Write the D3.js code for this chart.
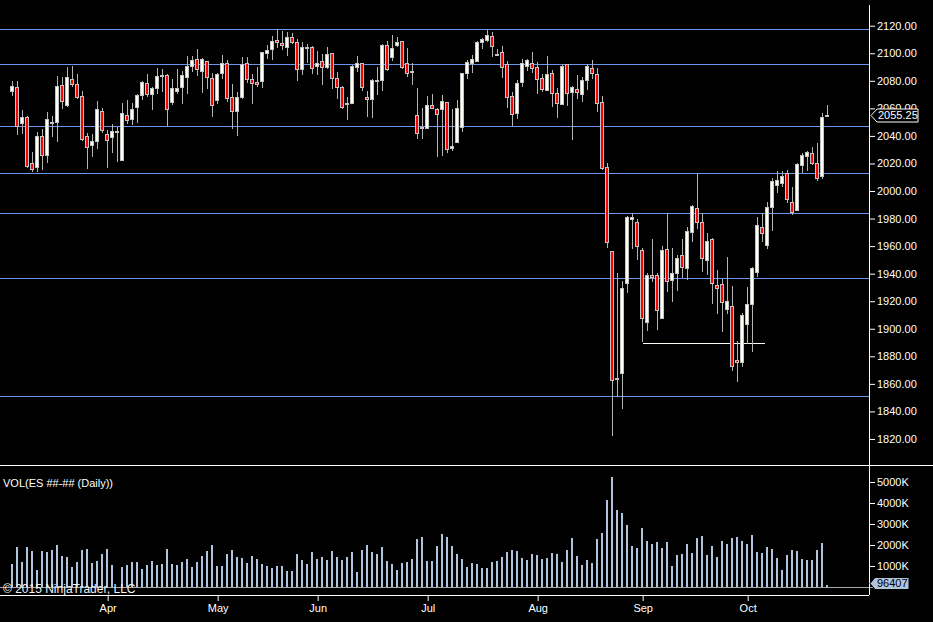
<html>
<head>
<meta charset="utf-8">
<script src="https://d3js.org/d3.v7.min.js"></script>
<style>
  body { margin: 0; background: #000; }
  text { font-family: "Liberation Sans", Arial, sans-serif; font-size: 11px; }
</style>
</head>
<body>
<svg class="chart" width="933" height="622"></svg>
<script>

// daily ES bars, 5 Mar - 23 Oct 2015 (Memorial day, 3 Jul and Labor day have no bar)
const holidays = ["2015-05-25", "2015-07-03", "2015-09-07"];

const opens = [2072.4,2075.3,2049.1,2053.5,2020.1,2017.7,2039.9,2026.4,2049.9,2049.9,
  2076.7,2062.7,2081.1,2077.4,2069.0,2039.9,2033.2,2036.1,2057.8,2041.1,
  2039.0,2043.3,2022.7,2055.2,2052.0,2061.2,2069.5,2078.7,2070.2,2075.0,
  2083.5,2084.5,2064.6,2072.8,2075.3,2082.5,2090.8,2096.1,2087.1,2094.1,
  2081.8,2066.1,2085.4,2092.7,2068.5,2057.8,2068.5,2093.2,2081.1,2079.4,
  2079.6,2100.4,2102.8,2109.9,2107.7,2104.3,2112.0,2107.9,2088.8,2103.8,
  2104.8,2090.5,2094.1,2090.3,2099.9,2081.8,2075.3,2063.6,2064.1,2089.8,
  2092.7,2068.0,2066.5,2080.6,2080.3,2105.8,2097.0,2105.8,2108.7,2092.7,
  2086.6,2054.9,2046.0,2045.5,2062.7,2059.8,2059.3,2064.6,2031.0,2035.8,
  2046.2,2085.4,2093.2,2094.6,2107.9,2109.6,2112.3,2099.2,2100.7,2092.0,
  2069.2,2056.4,2078.9,2090.8,2092.7,2089.8,2082.0,2073.3,2085.4,2070.9,
  2062.9,2092.0,2071.6,2074.1,2070.2,2080.6,2089.1,2084.9,2064.6,2017.2,
  1956.2,1864.0,1867.6,1933.0,1979.4,1977.2,1957.2,1904.7,1938.8,1938.8,
  1908.0,1957.6,1935.1,1940.2,1953.3,1943.9,1970.5,1987.4,1977.2,1949.7,
  1964.9,1931.7,1932.2,1914.1,1916.3,1877.3,1875.6,1903.2,1917.7,1941.4,
  1973.6,1961.0,1988.1,2004.6,2005.6,2013.1,1991.8,1986.4,2018.6,2025.4,
  2027.3,2020.1,2010.9,2055.0];

const highs = [2079.9,2079.9,2058.8,2054.5,2028.3,2042.8,2044.8,2057.4,2054.4,2083.5,
  2082.5,2090.0,2090.8,2084.9,2072.4,2042.3,2041.4,2065.3,2060.3,2044.3,
  2048.6,2046.7,2063.9,2066.1,2063.9,2070.4,2079.6,2084.9,2075.3,2089.1,
  2088.6,2085.2,2081.3,2088.6,2087.4,2098.0,2098.0,2103.1,2096.3,2094.6,
  2085.4,2085.9,2098.7,2095.1,2077.7,2071.9,2097.3,2097.3,2084.9,2090.0,
  2101.2,2105.8,2112.5,2117.4,2116.2,2115.4,2114.5,2110.1,2108.2,2106.5,
  2105.3,2101.6,2099.5,2104.5,2100.4,2086.4,2076.5,2068.2,2091.5,2098.0,
  2093.2,2072.6,2081.6,2090.0,2106.5,2108.9,2113.5,2111.8,2109.1,2103.6,
  2092.7,2074.8,2060.5,2068.7,2070.4,2060.5,2069.5,2064.9,2059.5,2065.8,
  2085.9,2095.1,2098.7,2109.1,2111.1,2117.1,2115.7,2103.1,2105.3,2094.4,
  2071.6,2080.6,2095.6,2095.8,2101.2,2093.9,2084.9,2098.0,2087.8,2074.5,
  2092.2,2092.4,2076.2,2084.5,2082.5,2092.2,2095.1,2089.1,2069.0,2020.1,
  1956.5,1940.2,1934.7,1981.8,1983.8,1979.7,1958.4,1940.2,1965.1,1940.7,
  1960.1,1983.8,1958.9,1953.5,1965.1,1973.6,1989.8,2012.3,1983.8,1969.3,
  1965.6,1942.6,1936.1,1952.1,1931.0,1891.3,1911.2,1930.3,1945.1,1981.4,
  1983.8,1992.0,2009.7,2014.5,2014.5,2015.2,2002.7,2020.6,2027.3,2029.3,
  2031.7,2034.6,2056.4,2062.4];

const lows = [2069.0,2040.9,2041.4,2016.9,2014.0,2014.0,2015.2,2020.6,2039.4,2035.8,
  2059.8,2061.2,2075.3,2066.5,2036.1,2016.2,2024.4,2030.7,2041.9,2016.9,
  2027.3,2021.1,2022.0,2048.6,2047.7,2049.6,2066.1,2068.5,2058.8,2070.7,
  2072.1,2047.2,2062.2,2070.7,2063.4,2070.7,2086.4,2083.7,2071.4,2073.8,
  2053.5,2063.2,2081.6,2064.9,2044.8,2040.2,2066.8,2078.4,2062.9,2075.3,
  2075.0,2095.8,2095.1,2104.1,2102.4,2098.0,2106.5,2079.6,2084.5,2093.2,
  2084.9,2084.0,2077.2,2088.3,2074.3,2067.0,2059.8,2051.5,2063.4,2086.4,
  2072.8,2054.0,2053.0,2069.7,2072.8,2086.9,2094.4,2104.8,2088.8,2082.8,
  2077.2,2038.0,2038.0,2045.2,2059.3,2024.9,2025.7,2027.3,2029.3,2035.5,
  2043.1,2081.6,2085.9,2093.7,2103.3,2108.2,2097.5,2098.0,2082.0,2060.3,
  2047.2,2052.5,2075.7,2087.1,2085.9,2070.7,2071.6,2072.8,2061.2,2053.2,
  2062.7,2061.7,2037.0,2067.0,2064.6,2073.3,2081.3,2057.4,2015.2,1958.4,
  1822.4,1850.7,1841.7,1925.7,1957.9,1949.9,1890.1,1898.6,1933.7,1899.1,
  1907.1,1926.9,1919.6,1927.6,1936.6,1935.4,1962.7,1972.4,1941.4,1939.0,
  1918.0,1910.7,1897.9,1910.9,1869.6,1861.6,1872.0,1888.7,1883.4,1937.8,
  1963.2,1957.9,1971.2,1998.8,2002.7,1991.5,1982.6,1985.5,2012.8,2014.5,
  2018.6,2007.5,2008.7,2053.5];

const closes = [2076.0,2047.2,2053.5,2018.1,2015.7,2039.9,2025.9,2052.3,2050.1,2076.0,
  2065.1,2082.5,2077.9,2068.5,2037.5,2031.9,2036.1,2059.3,2044.0,2037.0,
  2043.3,2043.6,2056.4,2051.3,2059.3,2069.5,2078.9,2070.2,2074.5,2083.2,
  2084.2,2059.3,2074.5,2074.5,2084.0,2090.5,2094.9,2088.3,2095.6,2082.5,
  2062.2,2084.7,2092.7,2067.3,2057.8,2068.0,2092.2,2081.1,2078.2,2078.0,
  2100.7,2102.4,2109.1,2107.9,2105.8,2111.6,2107.9,2088.3,2104.3,2104.8,
  2089.3,2092.7,2089.8,2099.5,2082.3,2075.7,2061.2,2063.9,2090.8,2092.7,
  2075.7,2066.5,2080.6,2080.9,2105.8,2088.8,2103.6,2108.2,2090.3,2085.4,
  2086.9,2041.9,2046.2,2062.2,2060.0,2055.7,2065.3,2030.2,2032.7,2060.3,
  2085.4,2093.4,2095.6,2108.2,2110.6,2113.0,2105.5,2099.4,2089.8,2068.5,
  2055.7,2078.2,2092.7,2094.9,2089.5,2081.6,2073.8,2084.9,2070.9,2064.1,
  2090.8,2071.1,2075.3,2071.9,2080.6,2090.8,2085.4,2063.6,2016.5,1962.7,
  1862.8,1864.3,1929.3,1980.9,1980.9,1960.3,1907.5,1938.8,1937.3,1913.4,
  1957.2,1934.7,1940.2,1951.1,1944.6,1971.0,1989.1,1977.7,1951.1,1963.7,
  1933.0,1929.3,1919.2,1919.9,1872.9,1875.6,1909.7,1917.7,1943.9,1975.1,
  1969.3,1988.1,2007.0,2008.0,2011.1,1994.4,1984.5,2019.3,2026.1,2028.1,
  2020.6,2009.2,2053.5,2055.25];

// volume in thousands of contracts
const volumes = [1100,1900,1190,1900,1710,810,1710,1670,1760,2000,
  1480,1430,950,1190,1760,1810,1140,1240,1570,1810,
  1050,20,950,1050,1190,1190,860,1050,1240,1050,
  1100,1810,1100,1050,1190,1330,950,1190,1480,1710,
  2000,1000,1000,1570,1760,1430,1380,1140,1480,1330,
  1100,1000,900,1000,1000,760,760,1570,1290,1100,
  1670,1330,1430,1290,1710,1430,1290,1430,1670,710,
  1760,2000,1670,1570,1900,1240,1100,810,1140,1190,
  1330,2290,2380,1240,1240,1950,2520,2380,1950,1570,
  1330,950,1140,1100,900,900,1190,1240,1430,1670,
  1760,1710,1380,1290,1570,1520,1330,1380,1620,1570,
  1190,1760,2330,1480,1050,1290,1140,2290,2570,4140,
  5240,3670,3520,2950,1950,1860,2810,2190,2050,2140,
  1860,2140,1000,1520,1570,2050,1620,2330,2430,1520,
  1950,1430,2190,2050,2330,2380,2190,2050,2480,1670,
  1620,1900,1810,1380,810,1520,1760,1710,1330,1290,
  1290,1760,2100,96.407];

const levels = [2117.5, 2092.5, 2047, 2013.25, 1983.75, 1936.5, 1851];
const support = {price: 1890, from: 126, to: 150};
const priceTicks = d3.range(1820, 2121, 20);
const volumeTicks = [1000, 2000, 3000, 4000, 5000];

const dayFmt = d3.timeFormat("%Y-%m-%d");
const dates = d3.timeDay.range(new Date(2015, 2, 5), new Date(2015, 9, 24))
  .filter(d => d.getDay() % 6 !== 0 && !holidays.includes(dayFmt(d)));

const bars = dates.map((d, i) => ({
  date: d, i: i, o: opens[i], h: highs[i], l: lows[i], c: closes[i], v: volumes[i]
}));

const axisX = 869;
const svg = d3.select(".chart");

svg.append("rect").attr("width", 933).attr("height", 622).attr("fill", "#000");

let x = d3.scaleLinear().domain([0, bars.length - 1]).range([12.67, 827.67]);
let y = d3.scaleLinear().domain([1801.1, 2138.66]).range([465, 0]);
let yv = d3.scaleLinear().domain([0, 5000]).range([587, 482]);

const col = i => Math.floor(x(i));

// horizontal levels
svg.append("g").selectAll("line")
  .data(levels).enter().append("line")
    .attr("x1", 0).attr("x2", axisX)
    .attr("y1", d => Math.round(y(d)) + 0.5)
    .attr("y2", d => Math.round(y(d)) + 0.5)
    .attr("stroke", "#6a95ec").attr("shape-rendering", "crispEdges");

svg.append("line")
    .attr("x1", x(support.from)).attr("x2", x(support.to) + 2.5)
    .attr("y1", Math.round(y(support.price)) + 0.5)
    .attr("y2", Math.round(y(support.price)) + 0.5)
    .attr("stroke", "#fff8ee").attr("shape-rendering", "crispEdges");

// candles
const candles = svg.append("g").attr("shape-rendering", "crispEdges");

candles.selectAll(".wick").data(bars).enter().append("line")
    .attr("class", "wick")
    .attr("x1", d => col(d.i) + 0.5).attr("x2", d => col(d.i) + 0.5)
    .attr("y1", d => Math.round(y(d.h))).attr("y2", d => Math.round(y(d.l)))
    .attr("stroke", "#b4b4b4");

candles.selectAll(".body").data(bars).enter().append("rect")
    .attr("class", "body")
    .attr("x", d => col(d.i) - 1.5)
    .attr("width", 3)
    .attr("y", d => Math.round(y(Math.max(d.o, d.c))) + 0.5)
    .attr("height", d => Math.max(1, Math.round(y(Math.min(d.o, d.c))) - Math.round(y(Math.max(d.o, d.c)))))
    .attr("fill", d => d.c >= d.o ? "#fffff4" : "#ff0000")
    .attr("stroke", "#c4c4c4");

// volume panel
svg.append("g").attr("shape-rendering", "crispEdges")
  .selectAll("rect").data(bars).enter().append("rect")
    .attr("x", d => col(d.i) - 1)
    .attr("width", 2)
    .attr("y", d => Math.round(yv(d.v)))
    .attr("height", d => 587 - Math.round(yv(d.v)))
    .attr("fill", "#b0c4de");

svg.append("line").attr("x1", 0).attr("x2", axisX + 4).attr("y1", 587.5).attr("y2", 587.5)
    .attr("stroke", "#a8a8a8").attr("shape-rendering", "crispEdges");

// frame
const frame = svg.append("g").attr("stroke", "#fff").attr("shape-rendering", "crispEdges");
frame.append("line").attr("x1", 0).attr("x2", 933).attr("y1", 465.5).attr("y2", 465.5);
frame.append("line").attr("x1", 0).attr("x2", axisX).attr("y1", 595.5).attr("y2", 595.5);
frame.append("line").attr("x1", axisX + 0.5).attr("x2", axisX + 0.5).attr("y1", 5).attr("y2", 595);

// price axis
const yAxis = svg.append("g")
    .attr("transform", `translate(${axisX},0)`)
    .call(d3.axisRight(y).tickValues(priceTicks).tickFormat(d3.format(".2f")).tickSize(6).tickPadding(2));

const vAxis = svg.append("g")
    .attr("transform", `translate(${axisX},0)`)
    .call(d3.axisRight(yv).tickValues(volumeTicks).tickFormat(d => d + "K").tickSize(6).tickPadding(2));

// time axis
const monthStarts = bars.filter((d, i) => i > 0 && d.date.getMonth() !== bars[i - 1].date.getMonth()).map(d => d.i);
const xAxis = svg.append("g")
    .attr("transform", "translate(0,595)")
    .call(d3.axisBottom(x).tickValues(monthStarts).tickFormat(i => d3.timeFormat("%b")(dates[i])).tickSize(6).tickPadding(3));

[yAxis, vAxis, xAxis].forEach(a => {
  a.select(".domain").remove();
  a.selectAll("line").attr("stroke", "#fff");
  a.selectAll("text").attr("fill", "#fff").style("font-size", "11px")
    .style("font-family", '"Liberation Sans", Arial, sans-serif');
});

// last price marker
const last = bars[bars.length - 1];
const ly = Math.round(y(last.c)) + 0.5;
svg.append("path")
    .attr("d", `M${axisX + 2},${ly} L${axisX + 8},${ly - 6.5} H${axisX + 49} V${ly + 6.5} H${axisX + 8} Z`)
    .attr("fill", "#000").attr("stroke", "#fff");
svg.append("text")
    .attr("x", axisX + 9).attr("y", ly).attr("dy", "0.35em")
    .attr("fill", "#fff").text(d3.format(".2f")(last.c));

// last volume marker
const vy = Math.round(yv(last.v)) - 1.5;
svg.append("path")
    .attr("d", `M${axisX + 1},${vy} L${axisX + 6},${vy - 6} H${axisX + 40} V${vy + 6} H${axisX + 6} Z`)
    .attr("fill", "#b0c4de").attr("stroke", "#000");
svg.append("text")
    .attr("x", axisX + 8).attr("y", vy).attr("dy", "0.35em")
    .attr("fill", "#000").text(Math.round(last.v * 1000));

// labels
svg.append("text").attr("x", 3).attr("y", 483).attr("dy", "0.35em")
    .attr("fill", "#fff").text("VOL(ES ##-## (Daily))");
svg.append("text").attr("x", 3).attr("y", 589).attr("dy", "0.35em")
    .attr("fill", "#f0f0f0").style("font-size", "12px").text("© 2015 NinjaTrader, LLC");

</script>
</body>
</html>
